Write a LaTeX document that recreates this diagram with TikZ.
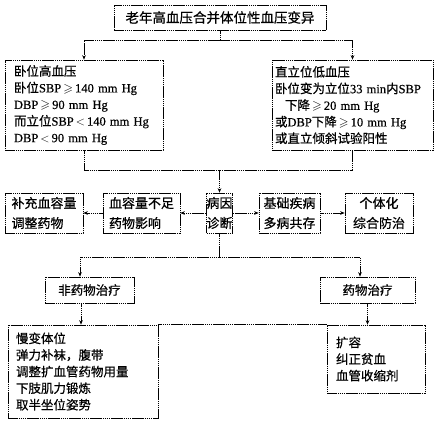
\documentclass[tikz,border=0pt]{standalone}
\usepackage{amssymb}
\usepackage{fontspec}
\setmainfont{Noto Sans CJK SC}[FakeBold=0.6]
\newfontfamily\latin{Liberation Serif}[FakeBold=0.5]
\newcommand{\en}[1]{{\latin #1}}
\newcommand{\gesl}{\,$\geqslant$\,}
\newcommand{\lessm}{\,$<$\,}
\usetikzlibrary{
    arrows.meta,
    positioning,
    calc
}
\tikzset{
    % --- Connector line (scanned, fine dashes) ---
    link/.style = {
        line width=0.6pt, dash pattern=on 1.6pt off 0.5pt
    },
    % --- Connector with arrow head ---
    link arrow/.style = {
        link, -{Stealth[length=4.5pt, width=3.6pt]}
    },
    % --- Generic framed box ---
    frame/.style = {
        rectangle, draw, line width=0.7pt, dash pattern=on 1.6pt off 0.5pt,
        font=\fontsize{12.5}{16.6}\selectfont, inner sep=0pt
    },
    % --- Title box ---
    title box/.style = {
        frame, font=\fontsize{13.5}{16}\selectfont,
        minimum width=212pt, minimum height=25pt
    },
    % --- Box with a list of lines ---
    list box/.style = {
        frame, align=left
    },
    % --- Middle row box ---
    mid box/.style = {
        frame, align=center, minimum height=40pt,
        font=\fontsize{13}{20}\selectfont
    },
    % --- Treatment header box ---
    head box/.style = {
        frame, minimum height=26pt
    }
}

\begin{document}
\begin{tikzpicture}[x=1pt, y=-1pt]

\useasboundingbox (0,0) rectangle (441,421);

% ---------------------------------------------------------
% Title and the two forms
% ---------------------------------------------------------
\node[title box] (title) at (220,17.5) {老年高血压合并体位性血压变异};

\node[list box, minimum width=158pt, minimum height=90pt, text width=140pt] (hyper) at (84,105)
    {卧位高血压\\
     卧位\en{SBP}\gesl\en{140 mm Hg}\\
     \en{DBP}\gesl\en{90 mm Hg}\\
     而立位\en{SBP}\lessm\en{140 mm Hg}\\
     \en{DBP}\lessm\en{90 mm Hg}};
\node[list box, minimum width=161pt, minimum height=90pt, text width=155pt] (hypo) at (352.5,105)
    {直立位低血压\\
     卧位变为立位\en{33 min}内\en{SBP}\\
     \hspace{10pt}下降\gesl\en{20 mm Hg}\\
     或\en{DBP}下降\gesl\en{10 mm Hg}\\
     或直立倾斜试验阳性};

\draw[link] (title.south) -- ++(0,10) coordinate (fork);
\draw[link arrow] (fork) -| (hyper.north);
\draw[link arrow] (fork) -| (hypo.north);

% ---------------------------------------------------------
% Middle row
% ---------------------------------------------------------
\node[mid box] (diag) at (219.5,213) {病因\\诊断};
\node[mid box, minimum width=77pt, align=left] (lack) at (141.5,213) {血容量不足\\药物影响};
\node[mid box, minimum width=78pt, align=left] (refill) at (44,213) {补充血容量\\调整药物};
\node[mid box, minimum width=61pt] (base) at (289.5,213) {基础疾病\\多病共存};
\node[mid box, minimum width=68pt] (indiv) at (379,213) {个体化\\综合防治};

\coordinate (join) at (219.5,170);
\draw[link] (hyper.south) |- (join) -| (hypo.south);
\draw[link arrow] (join) -- (diag.north);

\draw[link arrow] (diag) -- (lack);
\draw[link arrow] (lack) -- (refill);
\draw[link arrow] (diag) -- (base);
\draw[link arrow] (base) -- (indiv);

% ---------------------------------------------------------
% Treatment
% ---------------------------------------------------------
\node[head box, minimum width=89pt] (nondrug) at (89.5,290) {非药物治疗};
\node[head box, minimum width=95pt] (drug) at (367.5,290) {药物治疗};

\draw[link] (diag.south) -- ++(0,24) coordinate (fork2);
\draw[link arrow] (fork2) -| ([xshift=-9.5pt]nondrug.north);
\draw[link arrow] (fork2) -| ([xshift=-7.5pt]drug.north);

\node[list box, minimum width=150pt, minimum height=93pt, text width=134pt] (nonlist) at (83,371.5)
    {慢变体位\\
     弹力补袜，腹带\\
     调整扩血管药物用量\\
     下肢肌力锻炼\\
     取半坐位姿势};
\node[list box, minimum width=98pt, minimum height=68pt, text width=80pt] (druglist) at (376,359)
    {扩容\\
     纠正贫血\\
     血管收缩剂};

\draw[link arrow] ([xshift=-8.5pt]nondrug.south) -- ([xshift=-2pt]nonlist.north);
\draw[link arrow] (drug.south) -- (drug.south |- druglist.north);
\draw[link] (nonlist.north east) -- (druglist.north west);

\end{tikzpicture}
\end{document}
